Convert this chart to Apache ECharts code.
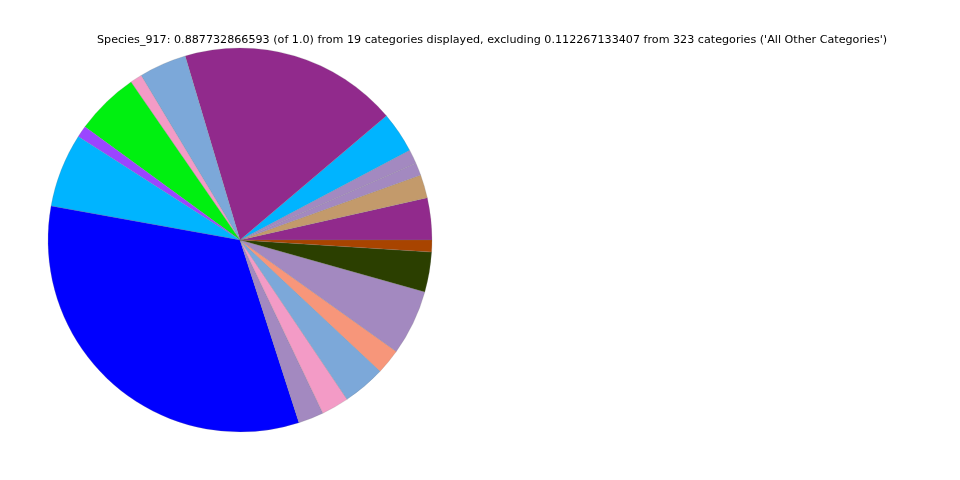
<!DOCTYPE html>
<html>
<head>
<meta charset="utf-8">
<script src="https://cdn.jsdelivr.net/npm/echarts@6/dist/echarts.min.js"></script>
<style>html,body{margin:0;padding:0;background:#fff}#c{width:960px;height:480px}</style>
</head>
<body>
<div id="c"></div>
<script>
// slices in counterclockwise order starting from 3 o'clock (degrees of 360)
const categories = ['c1','c2','c3','c4','c5','c6','c7','c8','c9','c10','c11','c12','c13','c14','c15','c16','c17','c18','c19'];
const values = [12.7, 7.1, 3.8, 4.3, 12.4, 66.3, 14.4, 3.6, 19.3, 3.5, 22.4, 118.1, 7.7, 8.3, 13.0, 7.6, 19.8, 12.1, 3.6];
const colors = ['#912A8C','#C39A6B','#A389C0','#A389C0','#00B4FF','#912A8C','#7CA8D9','#F39BC6','#00F010','#9B45FF','#00B4FF','#0000FF','#A389C0','#F39BC6','#7CA8D9','#F7967A','#A389C0','#2B3F00','#A84400'];
const titleText = "Species_917: 0.887732866593 (of 1.0) from 19 categories displayed, excluding 0.112267133407 from 323 categories ('All Other Categories')";

const chart = echarts.init(document.getElementById('c'), null, {renderer: 'canvas'});
chart.setOption({
  animation: false,
  backgroundColor: '#ffffff',
  title: {
    text: titleText,
    left: 97,
    top: 35,
    padding: 0,
    textStyle: {fontFamily: 'DejaVu Sans', fontSize: 11.15, fontWeight: 'normal', color: '#000'}
  },
  series: [{
    type: 'pie',
    center: [240, 240],
    radius: [0, 192],
    startAngle: 0,
    clockwise: false,
    label: {show: false},
    labelLine: {show: false},
    emphasis: {disabled: true},
    silent: true,
    itemStyle: {borderColor: 'rgba(120,120,120,0.5)', borderWidth: 0.4},
    data: categories.map((c, i) => ({name: c, value: values[i], itemStyle: {color: colors[i]}}))
  }]
});
</script>
</body>
</html>
